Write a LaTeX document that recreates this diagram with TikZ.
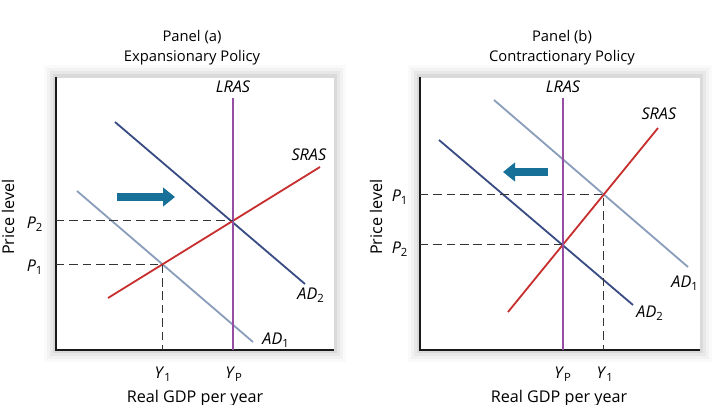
\documentclass[tikz,border=0pt]{standalone}
\usepackage{fontspec}
\setmainfont{Open Sans}
\usetikzlibrary{arrows.meta,intersections}
\definecolor{adone}{RGB}{138,158,188}
\definecolor{adtwo}{RGB}{58,76,132}
\definecolor{srascol}{RGB}{200,48,48}
\definecolor{lrascol}{RGB}{150,78,162}
\definecolor{shiftcol}{RGB}{22,112,152}
\begin{document}
\begin{tikzpicture}[x=0.025cm,y=-0.025cm]
\tikzstyle{axis}=[line width=1.7pt,black!90]
\tikzstyle{curve}=[line width=1.3pt]
\tikzstyle{guide}=[dashed,line width=0.6pt,black!80,dash pattern=on 6pt off 3.5pt]
\tikzstyle{shiftarrow}=[line width=0.2cm,shiftcol,-{Triangle[length=0.3cm,width=0.46cm]}]
\tikzstyle{lbl}=[inner sep=1pt,font=\fontsize{11.5}{13}\selectfont]
\tikzstyle{ttl}=[inner sep=0pt,anchor=base,font=\fontsize{10.5}{12}\selectfont]
\useasboundingbox (0,0) rectangle (720,405);
\fill[white] (0,0) rectangle (720,405);
% soft shadows round both panels
\foreach \s/\o in {12/0.02,9/0.03,6/0.04,3/0.06}{
  \fill[black,opacity=\o] (56-\s,77-\s) rectangle (334+\s,350+\s);
  \fill[black,opacity=\o] (420-\s,77-\s) rectangle (700+\s,350+\s);
}
\fill[white,draw=black!15] (56,77) rectangle (334,350);
\fill[white,draw=black!15] (420,77) rectangle (700,350);

% panel (a)
\node (ta1) [ttl] at (192,42) {Panel (a)};
\node (ta2) [ttl] at (192,62) {Expansionary Policy};
\coordinate (aO) at (56,350);
\coordinate (aT) at (56,77);
\coordinate (aR) at (334,350);
\draw[axis] (aT) -- (aO) -- (aR);
\draw[curve,adone,name path=aad1] (77,191) -- (253,342);
\draw[curve,adtwo,name path=aad2] (115,122) -- (305,284);
\draw[curve,srascol,name path=asras] (108,298) -- (320,167);
\draw[curve,lrascol,name path=alras] (233,98) -- (233,350);
\path[name intersections={of=asras and aad1,by=ae1}];
\path[name intersections={of=asras and alras,by=ae2}];
\draw[guide] (ae1 -| aO) -- (ae1) -- (ae1 |- aO);
\draw[guide] (ae2 -| aO) -- (ae2);
\draw[shiftarrow] (117,197) -- (175,197);
\node (alr) [lbl] at (233,87) {\textit{LRAS}};
\node (asr) [lbl] at (309,155) {\textit{SRAS}};
\node (ad2) [lbl] at (311,295) {\textit{AD}\textsubscript{2}};
\node (ad1) [lbl] at (276,340) {\textit{AD}\textsubscript{1}};
\node (ap2) [lbl] at (35,224) {\textit{P}\textsubscript{2}};
\node (ap1) [lbl] at (35,267) {\textit{P}\textsubscript{1}};
\node (ay1) [lbl] at (163,374) {\textit{Y}\textsubscript{1}};
\node (ayp) [lbl] at (234,374) {\textit{Y}\textsubscript{P}};
\node (agdp) [lbl,anchor=north,inner sep=0pt] at (195,390) {Real GDP per year};
\node (aprice) [lbl,rotate=90] at (8,217) {Price level};

% panel (b)
\node (tb1) [ttl] at (562,42) {Panel (b)};
\node (tb2) [ttl] at (562,62) {Contractionary Policy};
\coordinate (bO) at (420,350);
\coordinate (bT) at (420,77);
\coordinate (bR) at (700,350);
\draw[axis] (bT) -- (bO) -- (bR);
\draw[curve,adone,name path=bad1] (494,100) -- (688,267);
\draw[curve,adtwo,name path=bad2] (439,140) -- (633,305);
\draw[curve,srascol,name path=bsras] (508,312) -- (658,128);
\draw[curve,lrascol,name path=blras] (563,98) -- (563,350);
\path[name intersections={of=bsras and bad1,by=be1}];
\path[name intersections={of=bsras and blras,by=be2}];
\draw[guide] (be1 -| bO) -- (be1) -- (be1 |- bO);
\draw[guide] (be2 -| bO) -- (be2);
\draw[shiftarrow] (548,172) -- (503,172);
\node (blr) [lbl] at (563,87) {\textit{LRAS}};
\node (bsr) [lbl] at (659,114) {\textit{SRAS}};
\node (bd1) [lbl] at (685,283) {\textit{AD}\textsubscript{1}};
\node (bd2) [lbl] at (650,313) {\textit{AD}\textsubscript{2}};
\node (bp1) [lbl] at (400,197) {\textit{P}\textsubscript{1}};
\node (bp2) [lbl] at (400,249) {\textit{P}\textsubscript{2}};
\node (byp) [lbl] at (563,374) {\textit{Y}\textsubscript{P}};
\node (by1) [lbl] at (605,374) {\textit{Y}\textsubscript{1}};
\node (bgdp) [lbl,anchor=north,inner sep=0pt] at (559,390) {Real GDP per year};
\node (bprice) [lbl,rotate=90] at (376,217) {Price level};
\end{tikzpicture}
\end{document}
